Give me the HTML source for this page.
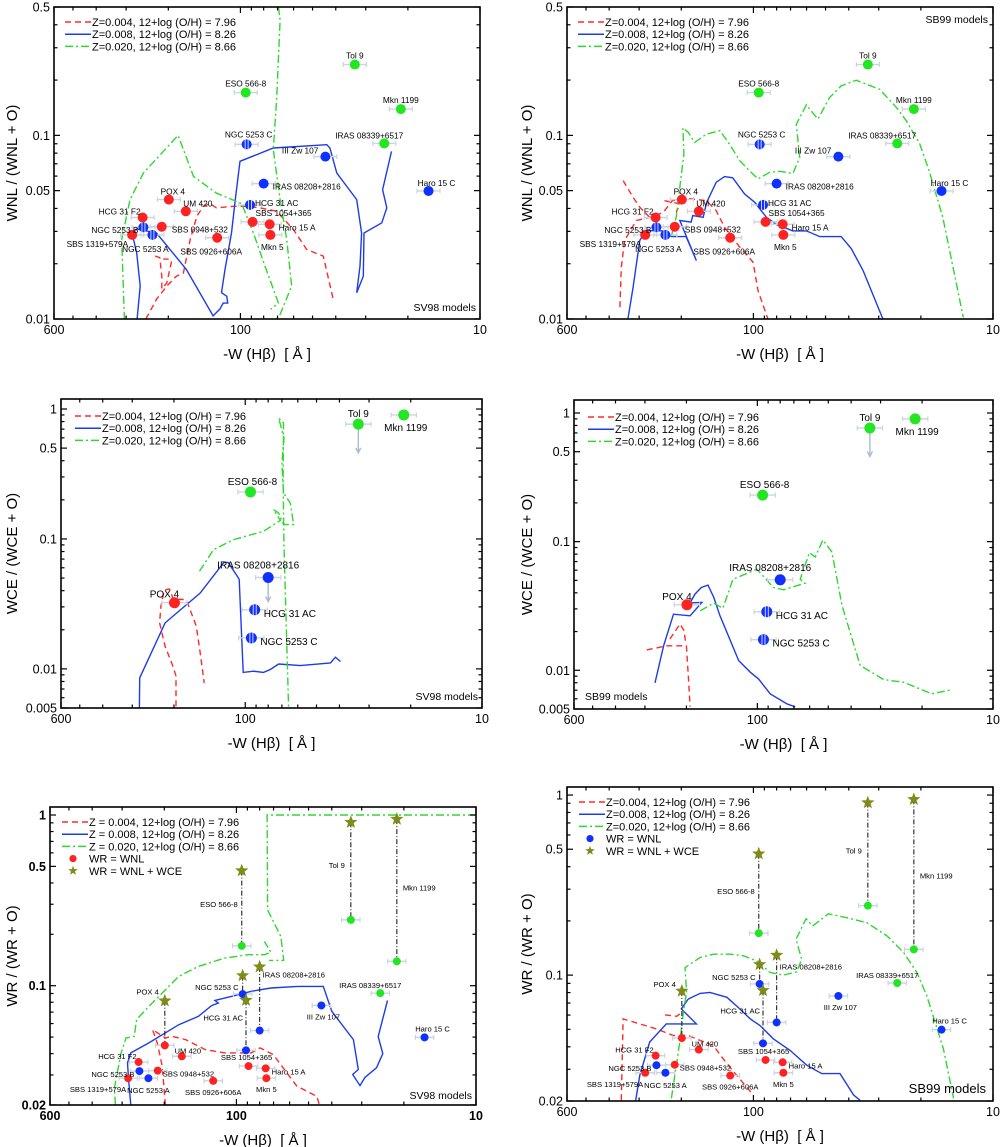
<!DOCTYPE html>
<html><head><meta charset="utf-8"><title>WR ratios vs W(Hβ)</title>
<style>
html,body{margin:0;padding:0;background:#fff;}
svg{display:block;font-family:"Liberation Sans",Arial,sans-serif;}
</style></head>
<body>
<svg id="fig" width="1000" height="1147" viewBox="0 0 1000 1147" xmlns="http://www.w3.org/2000/svg">
<rect x="0" y="0" width="1000" height="1147" fill="#fff"/>
</svg>
<script>
// ---------- Observational data ----------
const galNames = ["Tol 9","ESO 566-8","Mkn 1199","IRAS 08339+6517","NGC 5253 C","III Zw 107","IRAS 08208+2816","Haro 15 C","HCG 31 AC","POX 4","UM 420","HCG 31 F2","NGC 5253 B","SBS 0948+532","SBS 1319+579A","NGC 5253 A","SBS 0926+606A","SBS 1054+365","Haro 15 A","Mkn 5"];
const galEW = [33.3,95,21.4,25.1,94.2,44.2,80,16.4,91.2,199,169,256,254,213,283,233,125,89,75.5,75];
const galWNL = [0.243,0.171,0.139,0.0904,0.0893,0.0766,0.0546,0.0498,0.0418,0.0447,0.0386,0.0357,0.0316,0.0318,0.0287,0.0287,0.0277,0.0338,0.0328,0.0287];
const galColor = ["g","g","g","g","b","b","b","b","b","r","r","r","b","r","r","b","r","r","r","r"];
const galHalf = ["NGC 5253 C","HCG 31 AC","NGC 5253 B","NGC 5253 A"];
// WCE/(WCE+O)
const wceNames = ["Tol 9","Mkn 1199","ESO 566-8","IRAS 08208+2816","HCG 31 AC","NGC 5253 C","POX 4"];
const wceValues = [0.765,0.90,0.23,0.0505,0.0285,0.0173,0.0323];
const wceUpperLimits = ["Tol 9","IRAS 08208+2816"];
const wceArrowTo = [0.46,0.033];
// WR/(WR+O) with WR = WNL + WCE
const starNames = ["Tol 9","Mkn 1199","ESO 566-8","NGC 5253 C","IRAS 08208+2816","HCG 31 AC","POX 4"];
const starValues = [0.907,0.946,0.472,0.1146,0.129,0.0822,0.0816];

// ---------- Model curves [W, ratio] ----------
const sv98WnlRed = [[248,0.01],[224,0.0128],[203,0.0151],[185,0.0171],[173,0.0178],[162,0.0271],[152,0.0363],[143,0.0411],[134,0.0425],[126,0.0403],[107,0.0411],[94.2,0.0411],[82.8,0.0403],[70.6,0.0386],[60.1,0.0307],[52.9,0.0239],[45.1,0.022],[41,0.0128]];
const sv98WnlRed2 = [[227,0.022],[217,0.0216],[213,0.0171],[213,0.0146],[203,0.0157],[194,0.0205],[197,0.0212],[210,0.0212]];
const sv98WnlBlue = [[270,0.01],[262,0.0151],[271,0.0229],[284,0.0297],[271,0.0309],[224,0.0294],[168,0.0186],[130,0.0104],[122,0.0113],[118,0.0122],[113,0.0122],[114,0.0133],[120,0.0139],[116,0.0186],[109,0.0294],[105,0.0447],[100.4,0.0722],[72.9,0.0853],[43.6,0.0889],[42.3,0.0853],[39.6,0.0624],[32.7,0.0447],[31.2,0.0294],[31.7,0.0194],[32.7,0.0139],[30.7,0.0171],[30.5,0.0294],[25.7,0.0334],[24.5,0.0403],[25.5,0.0506],[23.4,0.0818]];
const sv98WnlGreen = [[305,0.0099],[313,0.0271],[289,0.0447],[254,0.0624],[182,0.1],[157,0.0598],[126,0.0485],[98.8,0.0425],[88.3,0.0294],[79,0.0194],[69.4,0.0122],[74.8,0.0113]];
const sv98WnlGreen2 = [[69.4,0.5],[68.3,0.425],[70.6,0.156],[72.9,0.0835],[68.3,0.0447],[64.1,0.0271],[61.1,0.0151],[68.3,0.0106],[70.6,0.01]];

const sb99WnlRed = [[361,0.0116],[356,0.0191],[345,0.0268],[308,0.0344],[271,0.0358],[238,0.038],[218,0.0441],[191,0.0455],[157,0.0441],[143,0.0389],[132,0.0316],[114,0.0246],[100.4,0.0204],[95.7,0.0143],[87,0.01]];
const sb99WnlRed2 = [[350,0.0567],[318,0.046],[298,0.0406],[271,0.0358]];
const sb99WnlRed3 = [[235,0.0441],[203,0.0424],[210,0.038]];
const sb99WnlBlue = [[334,0.01],[318,0.0149],[298,0.0268],[280,0.0303],[235,0.0302],[220,0.0281],[191,0.0281],[173,0.0208],[203,0.0344],[182,0.0337],[179,0.0366],[162,0.0358],[157,0.043],[143,0.0555],[132,0.0596],[122,0.0587],[109,0.048],[98.8,0.0432],[88.3,0.0358],[80.2,0.0327],[68.4,0.0302],[60.1,0.0302],[52.9,0.0281],[43,0.0281],[39,0.0241],[34.9,0.0184],[28.8,0.01]];
const sb99WnlGreen = [[220,0.0283],[210,0.0358],[203,0.0521],[195,0.0791],[197,0.110],[187,0.1038],[176,0.0916],[157,0.1016],[138,0.106],[126,0.0897],[114,0.0728],[104,0.0643],[95.7,0.0579],[85.5,0.0629],[77.7,0.0637],[68.4,0.062],[64.1,0.0759],[66.2,0.115],[60.1,0.1467],[58.2,0.139],[53.8,0.1226],[48.1,0.1608],[43,0.186],[37.2,0.1998],[29.7,0.178],[25.3,0.142],[23,0.12],[20.2,0.0897],[18.4,0.0629],[16.2,0.0358],[13.3,0.0102]];

const sv98WceRed = [[196,0.00516],[196,0.0088],[202,0.0105],[218,0.0149],[230,0.0226],[227,0.0303],[220,0.0403],[209,0.0412],[201,0.0341],[185,0.0343],[177,0.0337],[161,0.0213],[155,0.0133],[149,0.0078]];
const sv98WceBlue = [[280,0.005],[279,0.00853],[218,0.0226],[155,0.0384],[123,0.0662],[118,0.0658],[108,0.0516],[106,0.0488],[102,0.0094],[92.2,0.0096],[83.7,0.0094],[78.4,0.0099],[72.3,0.0109],[58.5,0.0106],[43.7,0.0111],[41.6,0.0123],[39.6,0.0114]];
const sv98WceGreen = [[156,0.0564],[136,0.0828],[112,0.0989],[83.7,0.1146],[71.1,0.139],[75.9,0.168],[72.3,0.159],[68.9,0.129],[62.5,0.129],[64.5,0.189],[68.9,0.226],[70,0.384],[68.6,0.598],[72.3,0.853],[68.9,0.78],[69.2,0.286],[68.6,0.0878],[65.6,0.005]];

const sb99WceRed = [[295,0.0144],[242,0.0155],[200,0.0155],[196,0.00857],[193,0.0052]];
const sb99WceRed2 = [[235,0.0175],[213,0.0229],[205,0.0204],[201,0.016]];
const sb99WceBlue = [[272,0.00798],[250,0.0155],[227,0.0273],[193,0.0265],[172,0.0337],[193,0.0334],[184,0.0391],[173,0.044],[162,0.0459],[153,0.0368],[144,0.0265],[120,0.0119],[107,0.00965],[98.9,0.00857],[88.2,0.00656],[74.9,0.00548],[69.1,0.0052]];
const sb99WceGreen = [[175,0.029],[153,0.0333],[140,0.0303],[127,0.051],[100.5,0.061],[85.4,0.044],[77.4,0.0422],[62.7,0.0475],[65.8,0.051],[63.7,0.061],[60,0.0822],[56.8,0.076],[52.7,0.103],[48.3,0.0832],[43.7,0.0317],[36.6,0.0109],[29.1,0.00847],[23.9,0.00807],[18.2,0.00656],[15.1,0.00704]];

const sv98WrRed = [[198,0.02],[204,0.0338],[214,0.0462],[224,0.0553],[198,0.0494],[186,0.0505],[163,0.0483],[135,0.0422],[112,0.0404],[86.7,0.0404],[79.7,0.0432],[70.2,0.0395],[56,0.0258],[46.2,0.0225],[44.8,0.0195]];
const sv98WrBlue = [[276,0.02],[282,0.0282],[285,0.0353],[276,0.0404],[232,0.0462],[174,0.0591],[144,0.0662],[127,0.0764],[119,0.0792],[123,0.082],[105,0.0866],[86.7,0.0927],[71.7,0.0969],[55.6,0.099],[43.4,0.099],[40,0.0708],[32.5,0.0483],[31,0.0323],[32.7,0.0302],[30.5,0.026],[29.1,0.029],[26,0.0331],[24.5,0.04],[25.6,0.0503],[23.4,0.082]];
const sv98WrGreen = [[320,0.0201],[323,0.0252],[303,0.0404],[289,0.0494],[267,0.0505],[261,0.0633],[232,0.0757],[204,0.0906],[174,0.1135],[144,0.1298],[112,0.145],[89.5,0.152],[76.4,0.152],[71.7,0.1567],[76.4,0.1816]];
const sv98WrGreen2 = [[10,1],[74.5,1],[74.1,0.278],[65.2,0.194],[63.5,0.1406],[73.2,0.1406]];

const sb99WrRed = [[356,0.0202],[350,0.0571],[298,0.0536],[254,0.0503],[216,0.0462],[187,0.0462],[167,0.0434],[147,0.0407],[134,0.0344],[117.5,0.0278],[100.1,0.0216]];
const sb99WrRed2 = [[234,0.0601],[209,0.0591],[203,0.0609]];
const sb99WrBlue = [[310,0.0202],[298,0.0278],[271,0.0425],[231,0.0536],[173,0.0536],[200,0.0649],[198,0.0663],[187,0.0737],[167,0.0792],[152,0.0802],[129,0.0753],[114,0.0649],[103,0.0571],[93.9,0.0525],[82.6,0.0443],[70.3,0.0382],[59.9,0.0316],[51.9,0.0284],[43.5,0.0284],[38.2,0.0216],[35.9,0.0202]];
const sb99WrGreen = [[220,0.0207],[203,0.0425],[196,0.0622],[190,0.0802],[193,0.110],[184,0.115],[167,0.1253],[147,0.1306],[125,0.1306],[110,0.128],[97,0.12],[85.3,0.1035],[75,0.1],[66,0.1043],[62.9,0.1226],[66.4,0.158],[60.3,0.2056],[56.6,0.1874],[48.6,0.219],[40.8,0.2083],[33.6,0.1954],[27.7,0.165],[23.6,0.1334],[20.8,0.1035],[18.9,0.0769],[16.1,0.039],[14.6,0.0207]];

// ---------- Tick arrays ----------
const xTickLabels = [600,100,10];
const yTicksRow1 = [0.5,0.1,0.05,0.01];
const yTicksRow2 = [1,0.5,0.1,0.01,0.005];
const yTicksRow3 = [1,0.5,0.1,0.02];

// ---------- Layout (label offsets, not data) ----------
const labelLayout1 = {"Tol 9":[0,-9,"middle"],"ESO 566-8":[0,-9,"middle"],"Mkn 1199":[0,-9,"middle"],"IRAS 08339+6517":[-15,-8,"middle"],"NGC 5253 C":[2,-10,"middle"],"III Zw 107":[-7,-6,"end"],"IRAS 08208+2816":[9,3,"start"],"Haro 15 C":[8,-8,"middle"],"HCG 31 AC":[5,-2,"start"],"POX 4":[4,-8,"middle"],"UM 420":[12,-8,"middle"],"HCG 31 F2":[-2,-6,"end"],"NGC 5253 B":[-5,3,"end"],"SBS 0948+532":[10,3,"start"],"SBS 1319+579A":[-4,9,"end"],"NGC 5253 A":[-7,14,"middle"],"SBS 0926+606A":[-6,14,"middle"],"SBS 1054+365":[3,-9,"start"],"Haro 15 A":[9,3,"start"],"Mkn 5":[2,12,"middle"]};
const labelLayout2 = {"Tol 9":[0,-10,"middle"],"Mkn 1199":[2,13,"middle"],"ESO 566-8":[2,-10,"middle"],"IRAS 08208+2816":[-10,-12,"middle"],"HCG 31 AC":[9,4,"start"],"NGC 5253 C":[9,4,"start"],"POX 4":[-10,-8,"middle"]};
const labelLayout3 = {"Tol 9":[-6,-55,"end"],"ESO 566-8":[-4,-42,"end"],"Mkn 1199":[6,-74,"start"],"IRAS 08339+6517":[-10,-8,"middle"],"NGC 5253 C":[-4,-7,"end"],"III Zw 107":[2,11,"middle"],"IRAS 08208+2816":[3,-56,"start"],"Haro 15 C":[8,-9,"middle"],"HCG 31 AC":[-3,-33,"end"],"POX 4":[-6,-54,"end"],"UM 420":[6,-6,"middle"],"HCG 31 F2":[-2,-6,"end"],"NGC 5253 B":[-5,3,"end"],"SBS 0948+532":[5,3,"start"],"SBS 1319+579A":[-2,11,"end"],"NGC 5253 A":[0,12,"middle"],"SBS 0926+606A":[0,11,"middle"],"SBS 1054+365":[-2,-9,"middle"],"Haro 15 A":[6,3,"start"],"Mkn 5":[0,11,"middle"]};

const SVGNS = "http://www.w3.org/2000/svg";
const fig = document.getElementById("fig");
const COL = {r:"#ff2222", b:"#1030ff", g:"#22e622"};
const LINE = {r:"#ff2a2a", b:"#1e3ce6", g:"#2ed82e"};
const DASH = {r:"6,4", b:"", g:"8,3,2,3"};

function el(tag, attrs, parent){
  const e = document.createElementNS(SVGNS, tag);
  for (const k in attrs) e.setAttribute(k, attrs[k]);
  (parent||fig).appendChild(e);
  return e;
}
function txt(str, x, y, size, anchor, parent, name, extra){
  const t = el("text", {x:x, y:y, "font-size":size, "text-anchor":anchor||"start", fill:"#000"}, parent);
  if (extra) for (const k in extra) t.setAttribute(k, extra[k]);
  t.textContent = str;
  
  
  return t;
}

let clipId = 0;
function makePanel(cfg){
  const g = el("g", {});
  
  
  const L6 = Math.log10(600), L1 = 1;
  const sx = w => cfg.x0 + (L6 - Math.log10(w)) / (L6 - L1) * (cfg.x1 - cfg.x0);
  const ly0 = Math.log10(cfg.ymin), ly1 = Math.log10(cfg.ymax);
  const sy = v => cfg.yb - (Math.log10(v) - ly0) / (ly1 - ly0) * (cfg.yb - cfg.yt);
  const cid = "clip" + (clipId++);
  const cp = el("clipPath", {id:cid}, g);
  el("rect", {x:cfg.x0, y:cfg.yt, width:cfg.x1-cfg.x0, height:cfg.yb-cfg.yt}, cp);
  const plot = el("g", {"clip-path":"url(#"+cid+")"}, g);
  
  
  const tk = el("g", {stroke:"#000", "stroke-width":1.2}, g);
  
  
  const xt = [];
  [600,500,400,300,200].forEach(v=>xt.push([v, v===600?6:3.5]));
  xt.push([100,6]);
  for (let v=90; v>=20; v-=10) xt.push([v,3.5]);
  xt.push([10,6]);
  xt.forEach(([v,len])=>{
    const X = sx(v);
    el("line",{x1:X,y1:cfg.yb,x2:X,y2:cfg.yb-len},tk);
    el("line",{x1:X,y1:cfg.yt,x2:X,y2:cfg.yt+len},tk);
  });
  for (let d=-3; d<=0; d++){
    for (let m=1; m<=9; m++){
      const v = m*Math.pow(10,d);
      if (v < cfg.ymin*0.999 || v > cfg.ymax) continue;
      const major = cfg.yticks.some(t=>Math.abs(t-v)/v<1e-6);
      const len = major?6:3.5, Y = sy(v);
      el("line",{x1:cfg.x0,y1:Y,x2:cfg.x0+len,y2:Y},tk);
      el("line",{x1:cfg.x1,y1:Y,x2:cfg.x1-len,y2:Y},tk);
    }
  }
  const fr = el("rect",{x:cfg.x0,y:cfg.yt,width:cfg.x1-cfg.x0,height:cfg.yb-cfg.yt,fill:"none",stroke:"#000","stroke-width":1.6},g);
  
  
  const fw = cfg.bold ? "bold" : "normal";
  xTickLabels.forEach(v=>{
    txt(String(v), sx(v), cfg.yb+15, 12.5, "middle", g, "x-tick-label", {"font-weight":fw});
  });
  cfg.yticks.forEach(v=>{
    txt(String(v), cfg.x0-4, sy(v)+4.5, 12.5, "end", g, "y-tick-label", {"font-weight":fw});
  });
  txt("-W (H\u03B2)  [ \u00C5 ]", (cfg.x0+cfg.x1)/2, cfg.yb+40, 15, "middle", g, "x-axis-title", {"xml:space":"preserve", "style":"white-space:pre"});
  const yc = (cfg.yt+cfg.yb)/2;
  txt(cfg.ytitle, cfg.ytx, yc, 15, "middle", g, "y-axis-title", {transform:"rotate(-90 "+cfg.ytx+" "+yc+")"});
  return {g, plot, sx, sy, cfg};
}

function curve(P, data, c, name){
  const pts = data.map(d => P.sx(d[0]).toFixed(1)+","+P.sy(d[1]).toFixed(1)).join(" ");
  const pl = el("polyline",{points:pts, fill:"none", stroke:LINE[c], "stroke-width":1.4, "stroke-dasharray":DASH[c]}, P.plot);
  
  
}

function point(P, name, w, v, c, r, half){
  const X = P.sx(w), Y = P.sy(v);
  const gg = el("g",{}, P.plot);
  
  
  const e = r*2.3;
  el("line",{x1:X-e,y1:Y,x2:X+e,y2:Y,stroke:"#c9d6de","stroke-width":1.4},gg);
  el("line",{x1:X-e,y1:Y-2.5,x2:X-e,y2:Y+2.5,stroke:"#c9d6de","stroke-width":1.2},gg);
  el("line",{x1:X+e,y1:Y-2.5,x2:X+e,y2:Y+2.5,stroke:"#c9d6de","stroke-width":1.2},gg);
  el("circle",{cx:X,cy:Y,r:r,fill:COL[c]},gg);
  if (half){
    el("line",{x1:X-1.5,y1:Y-r,x2:X-1.5,y2:Y+r,stroke:"#dfe6ff","stroke-width":0.9},gg);
    el("line",{x1:X+1.5,y1:Y-r,x2:X+1.5,y2:Y+r,stroke:"#dfe6ff","stroke-width":0.9},gg);
  }
  return [X,Y];
}
function starPath(X,Y,R){
  let s="";
  for (let i=0;i<10;i++){
    const a = -Math.PI/2 + i*Math.PI/5, rr = i%2?R*0.42:R;
    s += (i?"L":"M")+(X+rr*Math.cos(a)).toFixed(1)+","+(Y+rr*Math.sin(a)).toFixed(1);
  }
  return s+"Z";
}
function legend(P, x, y, entries, fs, withPoints, ptColor){
  const lg = el("g",{}, P.g);
  
  
  entries.forEach((t,i)=>{
    const c = ["r","b","g"][i], Y = y + i*12.2;
    const ln = el("line",{x1:x,y1:Y,x2:x+26,y2:Y,stroke:LINE[c],"stroke-width":1.5,"stroke-dasharray":DASH[c]},lg);
    
    
    txt(t, x+27, Y+4, fs, "start", lg, "legend-entry");
  });
  if (withPoints){
    const Y1 = y + 3*12.2, Y2 = y + 4*12.2;
    el("circle",{cx:x+11,cy:Y1,r:3.6,fill:COL[ptColor]},lg);
    txt("WR = WNL", x+27, Y1+4, fs, "start", lg, "legend-entry");
    el("path",{d:starPath(x+11,Y2,5),fill:"#7f8c1a"},lg);
    txt("WR = WNL + WCE", x+27, Y2+4, fs, "start", lg, "legend-entry");
  }
}
function labels(P, names, ws, vs, layout, fs){
  names.forEach((n,i)=>{
    const L = layout[n] || [0,-8,"middle"];
    txt(n, P.sx(ws[i])+L[0], P.sy(vs[i])+L[1]+3, fs, L[2], P.plot, "galaxy-label");
  });
}
const legendText1 = ["Z=0.004, 12+log (O/H) = 7.96","Z=0.008, 12+log (O/H) = 8.26","Z=0.020, 12+log (O/H) = 8.66"];
const legendText3 = ["Z = 0.004, 12+log (O/H) = 7.96","Z = 0.008, 12+log (O/H) = 8.26","Z = 0.020, 12+log (O/H) = 8.66"];
const ewOf = n => galEW[galNames.indexOf(n)];
const colOf = n => galColor[galNames.indexOf(n)];
const wnlOf = n => galWNL[galNames.indexOf(n)];

// ---------- Row 1 ----------
function row1(cfg, red, blue, green, model, mx, my, manchor){
  const P = makePanel(cfg);
  red.forEach(d=>curve(P,d,"r","model-z004"));
  blue.forEach(d=>curve(P,d,"b","model-z008"));
  green.forEach(d=>curve(P,d,"g","model-z020"));
  galNames.forEach((n,i)=>point(P,n,galEW[i],galWNL[i],galColor[i],5,galHalf.includes(n)));
  labels(P, galNames, galEW, galWNL, labelLayout1, 8.3);
  legend(P, cfg.x0+11, cfg.yt+15, legendText1, 11);
  txt(model, mx, my, 10.5, manchor, P.g, "model-label");
}
row1({name:"panel-wnl-sv98",x0:54,x1:480,yt:7,yb:319,ymin:0.01,ymax:0.5,yticks:yTicksRow1,ytitle:"WNL / (WNL + O)",ytx:17},
  [sv98WnlRed,sv98WnlRed2],[sv98WnlBlue],[sv98WnlGreen,sv98WnlGreen2],"SV98 models",476,311,"end");
row1({name:"panel-wnl-sb99",x0:567,x1:993,yt:7,yb:319,ymin:0.01,ymax:0.5,yticks:yTicksRow1,ytitle:"WNL / (WNL + O)",ytx:532},
  [sb99WnlRed,sb99WnlRed2,sb99WnlRed3],[sb99WnlBlue],[sb99WnlGreen],"SB99 models",988,23,"end");

// ---------- Row 2 ----------
function row2(cfg, red, blue, green, model, mx, my, manchor){
  const P = makePanel(cfg);
  red.forEach(d=>curve(P,d,"r","model-z004"));
  blue.forEach(d=>curve(P,d,"b","model-z008"));
  green.forEach(d=>curve(P,d,"g","model-z020"));
  wceUpperLimits.forEach((n,i)=>{
    if (cfg.noIras && n==="IRAS 08208+2816") return;
    const X = P.sx(ewOf(n)), Y0 = P.sy(wceValues[wceNames.indexOf(n)]), Y1 = P.sy(wceArrowTo[i]);
    const a = el("line",{x1:X,y1:Y0,x2:X,y2:Y1,stroke:"#a9bccb","stroke-width":1.4},P.plot);
    
    
    el("path",{d:"M"+(X-2.5)+","+(Y1-5)+"L"+X+","+Y1+"L"+(X+2.5)+","+(Y1-5),fill:"none",stroke:"#a9bccb","stroke-width":1.4},P.plot);
  });
  const ws = wceNames.map(ewOf);
  wceNames.forEach((n,i)=>point(P,n,ws[i],wceValues[i],colOf(n),5.5,galHalf.includes(n)));
  labels(P, wceNames, ws, wceValues, labelLayout2, 10);
  legend(P, cfg.x0+14, cfg.yt+17, legendText1, 11);
  txt(model, mx, my, 10.5, manchor, P.g, "model-label");
}
row2({name:"panel-wce-sv98",x0:61,x1:482,yt:399,yb:708,ymin:0.005,ymax:1.194,yticks:yTicksRow2,ytitle:"WCE / (WCE + O)",ytx:17},
  [sv98WceRed],[sv98WceBlue],[sv98WceGreen],"SV98 models",478,700,"end");
row2({name:"panel-wce-sb99",x0:574,x1:993,yt:400,yb:709,ymin:0.005,ymax:1.262,yticks:yTicksRow2,ytitle:"WCE / (WCE + O)",ytx:532,noIras:true},
  [sb99WceRed,sb99WceRed2],[sb99WceBlue],[sb99WceGreen],"SB99 models",585,700,"start");

// ---------- Row 3 ----------
function row3(cfg, red, blue, green, model, mx, my, manchor, mfs, ptc){
  const P = makePanel(cfg);
  red.forEach(d=>curve(P,d,"r","model-z004"));
  blue.forEach(d=>curve(P,d,"b","model-z008"));
  green.forEach(d=>curve(P,d,"g","model-z020"));
  starNames.forEach((n,i)=>{
    const X = P.sx(ewOf(n));
    const c = el("line",{x1:X,y1:P.sy(starValues[i]),x2:X,y2:P.sy(wnlOf(n)),stroke:"#222","stroke-width":1.1,"stroke-dasharray":"5,2,1,2"},P.plot);
    
    
  });
  galNames.forEach((n,i)=>point(P,n,galEW[i],galWNL[i],galColor[i],4,false));
  starNames.forEach((n,i)=>{
    const s = el("path",{d:starPath(P.sx(ewOf(n)),P.sy(starValues[i]),7),fill:"#7f8c1a"},P.plot);
    
    
  });
  labels(P, galNames, galEW, galWNL, labelLayout3, 7.6);
  legend(P, cfg.x0+12, cfg.yt+15, cfg.legText, 11, true, ptc);
  txt(model, mx, my, mfs, manchor, P.g, "model-label");
}
row3({name:"panel-wr-sv98",x0:50,x1:476,yt:807,yb:1105,ymin:0.02,ymax:1.114,yticks:yTicksRow3,ytitle:"WR / (WR + O)",ytx:17,bold:true,legText:legendText3},
  [sv98WrRed],[sv98WrBlue],[sv98WrGreen,sv98WrGreen2],"SV98 models",472,1099,"end",10.5,"r");
row3({name:"panel-wr-sb99",x0:567,x1:993,yt:787,yb:1101,ymin:0.02,ymax:1.108,yticks:yTicksRow3,ytitle:"WR / (WR + O)",ytx:532,legText:legendText1},
  [sb99WrRed,sb99WrRed2],[sb99WrBlue],[sb99WrGreen],"SB99 models",986,1093,"end",13,"b");
</script>
</body></html>
